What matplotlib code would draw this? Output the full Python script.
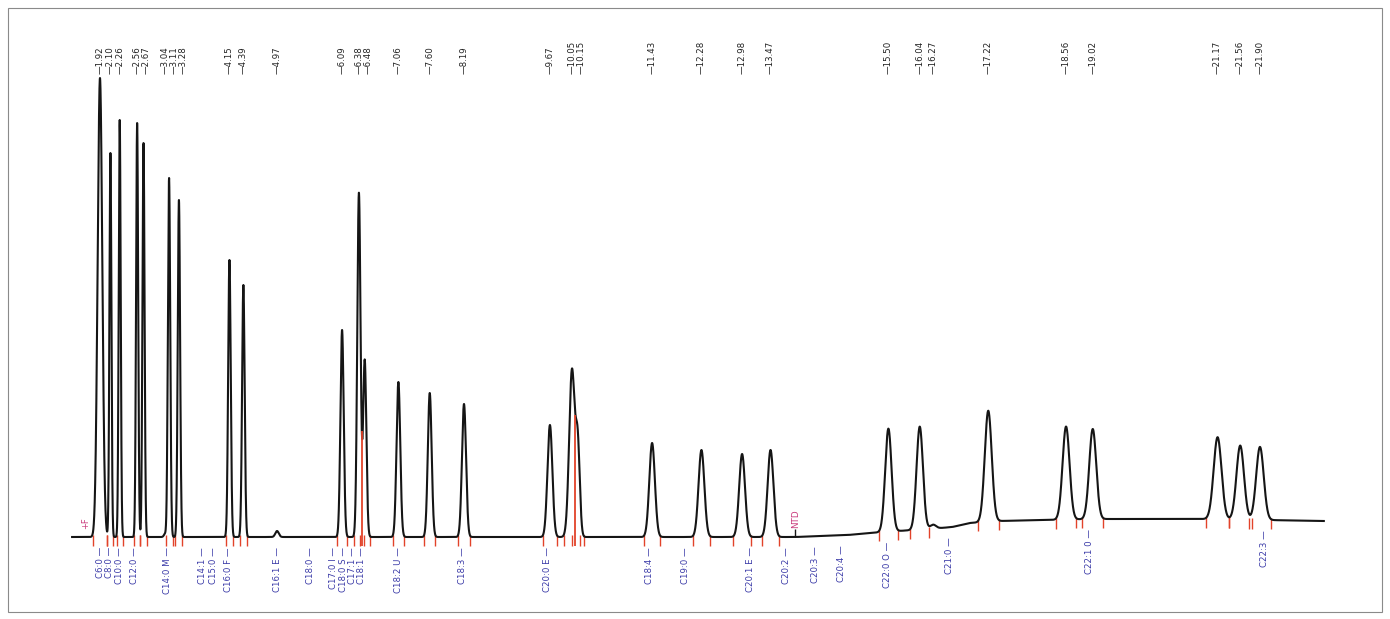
import numpy as np
import matplotlib.pyplot as plt
from matplotlib.patches import Rectangle

# peaks: retention time (min), height above baseline, sigma (min)
peak_times = [1.92, 2.10, 2.26, 2.56, 2.67, 3.04, 3.11, 3.28, 4.15, 4.39, 4.97,
              6.09, 6.38, 6.48, 7.06, 7.60, 8.19, 9.67, 10.05, 10.15, 11.43,
              12.28, 12.98, 13.47, 15.50, 16.04, 16.27, 17.22, 18.56, 19.02,
              21.17, 21.56, 21.90]
peak_heights = [459, 384, 417, 414, 394, 3, 359, 337, 277, 252, 6,
                207, 344, 177, 155, 144, 133, 112, 167, 88, 94,
                87, 83, 87, 103, 103, 4, 111, 93, 90,
                82, 74, 73]
peak_widths = [0.040, 0.017, 0.017, 0.018, 0.018, 0.02, 0.02, 0.02, 0.022, 0.022, 0.03,
               0.028, 0.028, 0.028, 0.032, 0.033, 0.035, 0.042, 0.048, 0.035, 0.048,
               0.05, 0.05, 0.05, 0.055, 0.055, 0.05, 0.06, 0.06, 0.06,
               0.068, 0.065, 0.065]

# baseline drift (anchor times / levels)
drift_times = [1.4, 13.9, 14.8, 15.4, 16.2, 16.6, 16.9, 17.4, 19.0, 21.0, 23.0]
drift_levels = [0, 0, 2, 5, 8, 10, 14, 16, 18, 18, 16]

# compound names under the baseline
comp_names = ["C6:0", "C8:0", "C10:0", "C12:0", "C14:0 M", "C14:1", "C15:0",
              "C16:0 F", "C16:1 E", "C18:0", "C17:0 I", "C18:0 S", "C17:1",
              "C18:1", "C18:2 U", "C18:3", "C20:0 E", "C18:4", "C19:0",
              "C20:1 E", "C20:2", "C20:3", "C20:4", "C22:0 O", "C21:0",
              "C22:1 0", "C22:3"]
comp_times = [1.93, 2.01, 2.23, 2.52, 3.09, 3.68, 3.88,
              4.14, 4.97, 5.55, 5.95, 6.07, 6.23,
              6.35, 7.07, 8.17, 9.62, 11.39, 12.01,
              13.12, 13.74, 14.25, 14.70, 15.49, 16.56,
              18.97, 21.97]

t_start, t_end = 1.44, 23.0


def spread(xs, gap):
    """Push label positions apart so neighbours are at least `gap` apart."""
    out = list(xs)
    for i in range(1, len(out)):
        if out[i] - out[i - 1] < gap:
            out[i] = out[i - 1] + gap
    return out


t = np.linspace(t_start, t_end, 30000)
base = np.interp(t, drift_times, drift_levels)
signal = base.copy()
for tr, h, w in zip(peak_times, peak_heights, peak_widths):
    signal += h * np.exp(-0.5 * ((t - tr) / w) ** 2)

fig = plt.figure(figsize=(13.9, 6.19), dpi=100)
ax = fig.add_axes([0, 0, 1, 1])
ax.set_xlim(0.198, 24.14)
ax.set_ylim(-82, 537)
ax.axis('off')

ax.plot(t, signal, color='#151515', lw=1.5, zorder=3)

# integration marks
red = '#e2432a'
for tr, h, w in zip(peak_times, peak_heights, peak_widths):
    if h < 10:
        continue
    for edge in (tr - 3 * w, tr + 3 * w):
        b = np.interp(edge, drift_times, drift_levels)
        ax.vlines(edge, b - 9, b + 2, color=red, lw=1.0, zorder=2)
for tr in (6.43, 10.11):
    ax.vlines(tr, -9, np.interp(tr, t, signal), color=red, lw=1.3, zorder=4)

# retention time labels
for tr, xl in zip(peak_times, spread(peak_times, 0.16)):
    ax.text(xl, 463, f"\u2014{tr:.2f}", rotation=90, ha='center', va='bottom',
            fontsize=6.2, color='#222222')

# compound labels
for name, tc, xl in zip(comp_names, comp_times, spread(comp_times, 0.16)):
    b = np.interp(tc, drift_times, drift_levels)
    ax.text(xl, b - 10, f"{name} \u2014", rotation=90, ha='center', va='top',
            fontsize=6.2, color='#3b3ba8')

# event markers
pink = '#c8387a'
ax.text(1.68, 8, "+F", rotation=90, ha='center', va='bottom', fontsize=6, color=pink)
ax.vlines(13.9, 0, 8, color='#151515', lw=1.0)
ax.text(13.9, 9, "NTD", rotation=90, ha='center', va='bottom', fontsize=6.3, color=pink)

fig.add_artist(Rectangle((8 / 1390, 7 / 619), 1374 / 1390, 604 / 619,
                         transform=fig.transFigure, fill=False,
                         ec='#8a8a8a', lw=0.8))

fig.savefig('out.png', dpi=100)
